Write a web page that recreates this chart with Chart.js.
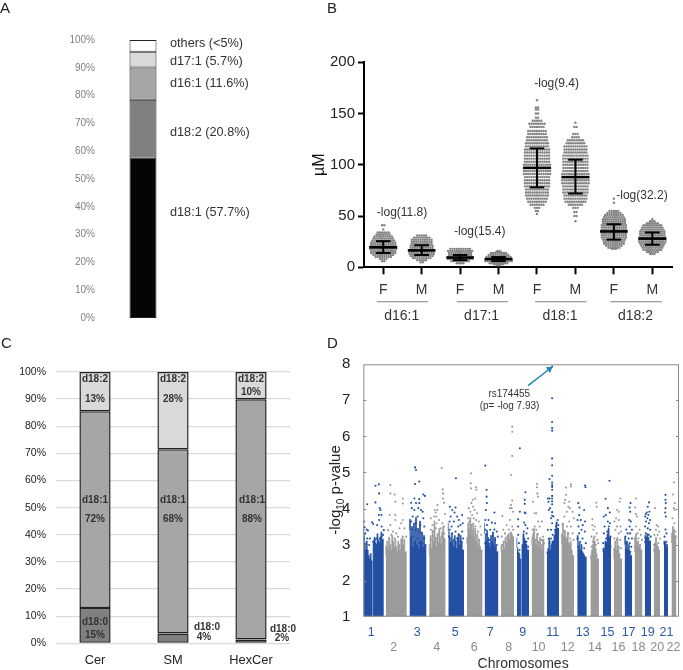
<!DOCTYPE html>
<html>
<head>
<meta charset="utf-8">
<title>Sphingolipid panels</title>
<script src="https://cdn.jsdelivr.net/npm/chart.js@4/dist/chart.umd.min.js"></script>
<style>
html,body{margin:0;padding:0;background:#fff;}
body{width:683px;height:670px;position:relative;overflow:hidden;font-family:"Liberation Sans",Arial,sans-serif;color:#222;}
canvas{position:absolute;}
.letter{position:absolute;font-size:15px;line-height:15px;}
#dTitle{position:absolute;left:275px;top:481px;width:120px;text-align:center;font-size:15px;line-height:18px;transform:rotate(-90deg);white-space:nowrap;}
#dTitle sub{font-size:10px;line-height:0;}
</style>
</head>
<body>
<canvas id="chartA" width="300" height="330" style="left:0;top:0"></canvas>
<canvas id="chartB" width="383" height="330" style="left:300px;top:0"></canvas>
<canvas id="chartC" width="300" height="340" style="left:0;top:330px"></canvas>
<canvas id="chartD" width="383" height="340" style="left:300px;top:330px"></canvas>
<div class="letter" style="left:0;top:0">A</div>
<div class="letter" style="left:327px;top:0">B</div>
<div class="letter" style="left:1px;top:335px">C</div>
<div class="letter" style="left:327px;top:335px">D</div>
<div id="dTitle">-log<sub>10</sub> p-value</div>
<script>
// ======================
// PANEL A DATA
// ======================
const aNames = ["d18:1","d18:2","d16:1","d17:1","others"];
const aValues = [57.7,20.8,11.6,5.7,4.2];
const aColors = ["#050505","#7f8180","#a6a6a6","#d9d9d9","#ffffff"];
const aLabels = ["others (<5%)","d17:1 (5.7%)","d16:1 (11.6%)","d18:2 (20.8%)","d18:1 (57.7%)"];
const aLabelY = [98.9,92.4,84.2,66.7,37.8];

// ======================
// PANEL B DATA
// ======================
const bTicks = ["F","M","F","M","F","M","F","M"];
const bGroups = ["d16:1","d17:1","d18:1","d18:2"];
const bGroupX = [0.48,2.56,4.6,6.56];
const bLineFrom = [-0.17,1.91,3.95,5.91];
const bLineTo = [1.16,3.24,5.29,7.25];
const bMeans = [19.5,16.5,9.5,8,97,88,35,28];
const bLows = [14,12,7,6,78,72,27,22];
const bHighs = [25.5,21.5,12,10,116,105,42,34];
const bNotes = ["-log(11.8)","-log(15.4)","-log(9.4)","-log(32.2)"];
const bNoteX = [0.49,2.51,4.51,6.73];
const bNoteY = [53.3,34.4,179.5,69.6];
// swarm rows: [uM, dots in the row]
const swarm161F = [[41,2],[37,1],[34,6],[32,7],[30,9],[28,10],[26,11],[24,12],[22,12],[20,13],[18,13],[16,12],[14,12],[12,10],[10,8],[8,4],[6,2]];
const swarm161M = [[31,5],[29,8],[27,10],[25,10],[23,10],[21,11],[19,11],[17,12],[15,12],[13,12],[11,11],[9,9],[7,5],[5,2]];
const swarm171F = [[18,10],[16,12],[14,11],[12,11],[10,12],[8,12],[6,9],[4,4]];
const swarm171M = [[16,2],[15,3],[14,8],[12,10],[10,12],[8,13],[6,13],[4,9],[3,5],[2,2]];
const swarm181F = [[163,1],[156,2],[154,2],[150,2],[146,2],[143,5],[140,8],[137,7],[133,9],[130,9],[127,10],[124,10],[121,11],[118,11],[115,12],[112,12],[109,12],[106,12],[103,12],[100,13],[97,13],[94,13],[91,13],[88,12],[85,12],[82,12],[79,12],[76,11],[73,11],[70,11],[67,10],[64,9],[61,7],[58,3],[55,2],[52,1]];
const swarm181M = [[141,1],[137,2],[130,3],[127,4],[124,8],[121,9],[118,11],[115,11],[112,11],[109,12],[106,12],[103,12],[100,12],[97,12],[94,12],[91,13],[88,13],[85,13],[82,13],[79,12],[76,12],[73,12],[70,11],[67,11],[64,10],[61,7],[58,3],[54,2],[50,2],[45,1]];
const swarm182F = [[67,1],[63,1],[55,5],[53,7],[51,9],[49,10],[47,11],[45,11],[43,11],[41,12],[39,12],[37,12],[35,12],[33,12],[31,12],[29,12],[27,11],[25,10],[23,10],[21,8],[19,6],[18,3]];
const swarm182M = [[47,1],[45,3],[43,6],[41,9],[39,10],[37,11],[35,12],[33,12],[31,12],[29,13],[27,13],[25,13],[23,12],[21,11],[19,10],[17,9],[15,6],[13,3]];
const swarms = [swarm161F,swarm161M,swarm171F,swarm171M,swarm181F,swarm181M,swarm182F,swarm182M];

// ======================
// PANEL C DATA
// ======================
const cCats = ["Cer","SM","HexCer"];
const cD180 = [13,3.6,1.4];
const cD181 = [72.5,67.9,88.6];
const cD182 = [14.5,28.5,10];

// ======================
// PANEL D DATA
// ======================
const chrNames = ["1","2","3","4","5","6","7","8","9","10","11","12","13","14","15","16","17","18","19","20","21","22"];
const chrStart = [0,262,539,770,993,1209,1417,1609,1794,1967,2144,2314,2499,2653,2799,2926,3053,3169,3288,3392,3511,3600];
const chrLength = [240,246,200,192,185,185,162,154,142,150,142,150,112,100,96,96,88,92,73,77,50,58];
const chrLabelAt = [92,354,631,859,1074,1297,1482,1698,1863,2048,2214,2387,2564,2707,2853,2980,3099,3215,3323,3434,3542,3623];
// top of the solid band along each chromosome, 1 = centromere gap
const massTops = [
 [3.55,3.3,3.05,2.85,3.1,2.85,2.7,2.6,2.75,2.55,1,3.1,3.2,3.05,3.0,3.3,3.1,3.05,3.2,3.35,3.15],
 [2.7,2.95,3.1,2.9,3.2,3.0,2.85,3.25,3.05,2.9,3.15,2.95,2.8,3.1,3.0,2.85,3.1,3.2,3.0,3.15,2.8],
 [3.4,3.7,3.2,3.5,2.95,3.6,3.1,3.75,3.0,3.45,2.9,3.65,3.1,3.35,2.95,3.25,3.0],
 [2.7,3.0,3.25,2.9,3.4,3.1,3.6,3.2,2.95,3.3,3.05,3.45,3.2,3.0,3.35,3.5,3.15],
 [3.6,3.35,3.2,3.05,3.3,3.1,2.95,3.25,3.1,2.9,3.2,3.3,3.0,3.25,3.1,2.85],
 [3.0,3.2,3.6,3.4,3.75,3.5,3.3,3.6,3.2,3.45,3.1,3.3,3.0,3.15,2.95,2.85],
 [3.6,3.3,3.1,3.4,3.2,3.05,2.95,3.25,3.1,3.35,3.0,3.2,2.95,2.8],
 [2.8,3.0,2.85,3.1,2.9,3.2,3.05,3.25,3.3,3.1,3.35,3.3,3.2],
 [3.2,2.9,2.8,2.75,2.6,1,3.0,3.3,3.15,3.1,3.0,2.85],
 [3.2,3.0,3.3,3.45,3.15,3.0,3.3,3.1,2.95,3.2,3.0,2.85,3.15],
 [2.75,2.8,2.9,3.15,2.85,3.0,3.1,3.1,3.25,3.4,3.6,3.45],
 [3.0,3.3,3.6,3.25,3.4,3.2,3.15,3.35,3.05,3.0,3.1,2.85,2.7],
 [3.1,3.25,2.9,3.05,2.85,3.0,2.8,2.75,2.7,2.65],
 [2.6,2.7,2.85,3.0,3.2,3.1,2.9,2.75,2.6],
 [2.8,2.9,2.85,3.1,3.05,3.3,3.45,3.2],
 [2.6,2.9,3.1,2.85,3.2,2.95,2.75,2.6],
 [3.0,3.2,2.9,3.1,2.85,3.0,2.8,2.7],
 [2.8,3.2,3.3,3.0,3.1,2.95,3.0,2.85],
 [3.15,3.25,3.2,3.3,3.2,3.1],
 [2.8,2.9,3.05,3.2,3.0,2.95,2.85],
 [3.0,3.1,3.05,2.95],
 [3.1,3.3,3.5,3.4,3.25]
];
// single SNPs above the band: [Mb into the chromosome, -log10 p]
const snpHits = [
 [[46,4.12],[142,4.63],[181,4.67],[185,4.42],[142,4.17],[192,4.01],[200,3.96],[181,3.82],[212,3.82],[185,3.68],[162,3.54],[104,3.62],[115,3.57],[215,3.5],[239,3.4],[8,3.64],[15,3.48],[38,3.42],[54,3.39],[0,3.4],[23,3.31],[77,3.17],[46,3.17],[8,3.17],[115,3.08],[154,3.17],[192,3.17],[212,3.22],[231,3.27],[173,3.11],[135,3.13],[69,2.99],[31,2.99]],
 [[54,4.65],[54,4.42],[104,4.39],[112,4.19],[200,4.28],[200,4.14],[112,3.82],[112,3.68],[46,3.82],[54,3.54],[27,3.4],[85,3.36],[181,3.59],[200,3.68],[219,3.45],[162,3.45],[123,3.31],[65,3.27],[142,3.22],[200,3.22],[104,3.17],[38,3.17],[181,3.13],[85,3.08],[239,3.22]],
 [[65,5.14],[77,5.07],[65,4.68],[115,4.75],[162,4.39],[181,4.35],[19,4.16],[58,4.28],[115,4.26],[77,4.15],[115,4.15],[27,4.01],[58,3.96],[104,4.01],[135,3.96],[154,3.91],[38,3.78],[96,3.78],[162,3.73],[19,3.64],[77,3.59],[127,3.54],[173,3.5],[27,3.41],[77,3.41],[115,3.36],[146,3.31],[38,3.22],[96,3.17],[173,3.17],[58,3.04],[115,3.04],[19,2.99],[154,3.04],[77,2.9],[135,2.85]],
 [[146,5.13],[158,4.53],[162,4.42],[162,4.28],[173,4.16],[96,4.1],[65,3.96],[77,3.89],[96,3.96],[58,3.78],[85,3.78],[185,3.85],[19,3.73],[58,3.64],[115,3.68],[85,3.59],[154,3.59],[38,3.54],[173,3.5],[135,3.45],[77,3.45],[19,3.41],[58,3.36],[173,3.31],[115,3.31],[46,3.24],[146,3.22],[96,3.17],[19,3.13],[77,3.08],[173,3.17]],
 [[89,4.84],[19,4.05],[85,4.03],[46,3.96],[73,3.89],[27,3.78],[104,3.78],[162,3.82],[123,3.68],[15,3.64],[65,3.64],[169,3.59],[38,3.5],[115,3.5],[142,3.54],[15,3.41],[85,3.36],[162,3.36],[46,3.31],[123,3.27],[8,3.22],[104,3.17],[173,3.17],[65,3.13],[142,3.08],[27,3.04]],
 [[50,4.98],[46,4.7],[50,4.56],[108,4.59],[112,4.52],[69,4.24],[54,4.15],[100,4.28],[73,4.05],[23,4.01],[42,3.91],[92,3.96],[119,3.87],[62,3.82],[15,3.73],[81,3.73],[31,3.64],[108,3.68],[139,3.64],[54,3.54],[100,3.5],[158,3.5],[15,3.41],[73,3.36],[131,3.36],[42,3.27],[100,3.22],[169,3.27],[23,3.13],[139,3.13],[62,3.08],[112,3.04]],
 [[8,5.19],[23,4.52],[23,4.33],[27,4.15],[15,3.96],[115,3.89],[8,3.68],[46,3.68],[27,3.54],[85,3.61],[123,3.59],[8,3.41],[65,3.41],[115,3.42],[142,3.36],[27,3.27],[92,3.24],[154,3.22],[54,3.13],[123,3.13],[8,3.04],[85,3.04],[142,2.99],[38,2.94]],
 [[131,6.27],[131,6.13],[131,5.46],[115,4.93],[131,4.22],[115,4.1],[123,4.01],[104,4.01],[139,3.91],[15,3.79],[104,3.68],[65,3.54],[131,3.5],[27,3.41],[92,3.42],[142,3.41],[46,3.31],[115,3.31],[8,3.22],[77,3.22],[135,3.22],[38,3.08],[104,3.13],[15,2.99],[65,2.99]],
 [[35,5.67],[100,4.45],[92,4.24],[92,4.13],[35,3.91],[92,3.89],[100,3.87],[15,3.7],[85,3.61],[100,3.54],[15,3.5],[123,3.45],[81,3.36],[112,3.31],[15,3.27],[131,3.17],[85,3.17],[23,3.04],[112,3.08],[73,2.99],[131,2.94],[31,2.85]],
 [[62,4.68],[62,4.59],[65,4.42],[73,4.33],[15,4.19],[35,3.87],[54,3.87],[73,3.64],[119,3.64],[35,3.5],[92,3.5],[8,3.41],[54,3.41],[131,3.22],[27,3.31],[73,3.29],[112,3.13],[15,3.17],[54,3.13],[142,3.04],[92,3.04],[35,2.99]],
 [[62,7.94],[62,7.06],[62,6.4],[62,6.23],[62,6.16],[62,5.39],[62,5.2],[62,4.91],[31,4.82],[62,4.72],[62,4.65],[62,4.6],[62,4.52],[62,4.35],[62,4.28],[62,4.2],[62,4.12],[62,3.9],[62,3.8],[12,4.28],[31,4.28],[19,4.19],[38,4.01],[23,3.96],[50,3.73],[62,3.59],[77,3.78],[115,3.61],[127,3.68],[108,3.5],[135,3.54],[12,3.41],[50,3.41],[96,3.41],[127,3.41],[69,3.27],[112,3.31],[23,3.17],[50,3.17],[96,3.17],[127,3.17],[81,3.04],[31,3.04],[127,3.04]],
 [[54,4.58],[112,4.67],[112,4.61],[54,4.38],[42,4.24],[92,4.19],[35,4.15],[81,4.05],[100,4.01],[62,3.91],[131,3.91],[35,3.78],[92,3.64],[145,3.73],[15,3.54],[65,3.5],[112,3.5],[35,3.36],[81,3.31],[131,3.31],[15,3.22],[54,3.17],[104,3.17],[142,3.13],[73,3.04],[27,3.04]],
 [[92,4.64],[96,4.59],[12,4.15],[27,4.03],[23,3.82],[81,3.96],[4,3.68],[42,3.68],[92,3.64],[15,3.5],[65,3.54],[50,3.41],[23,3.31],[88,3.36],[4,3.17],[62,3.17],[35,3.08],[100,3.04],[81,2.9],[12,2.94]],
 [[69,4.16],[73,4.05],[23,3.7],[50,3.5],[23,3.54],[35,3.41],[73,3.31],[12,3.22],[50,3.22],[81,3.13],[31,3.08],[65,2.99],[12,2.94],[92,3.04],[42,2.9]],
 [[77,4.77],[31,4.27],[58,4.01],[35,3.82],[81,3.89],[12,3.78],[58,3.64],[81,3.59],[19,3.5],[50,3.36],[69,3.5],[12,3.31],[89,3.22],[38,3.17],[69,3.13],[4,3.04],[50,3.04],[89,2.94],[27,2.9]],
 [[77,4.28],[69,4.19],[38,3.96],[58,3.91],[27,3.73],[58,3.68],[8,3.64],[38,3.5],[77,3.5],[19,3.41],[58,3.31],[85,3.36],[8,3.17],[38,3.13],[77,3.13],[19,2.94],[58,2.94],[85,2.9],[8,2.85],[38,2.76]],
 [[69,4.15],[58,4.03],[65,3.91],[54,3.68],[73,3.64],[19,3.42],[58,3.5],[85,3.41],[35,3.31],[8,3.22],[65,3.31],[46,3.17],[85,3.17],[19,3.04],[58,3.04],[77,2.94],[27,2.85],[65,2.8]],
 [[15,4.28],[8,4.03],[15,3.85],[27,3.78],[19,3.5],[58,3.41],[35,3.31],[73,3.27],[8,3.17],[46,3.17],[85,3.13],[27,3.04],[65,2.99],[8,2.94]],
 [[50,4.17],[35,4.05],[23,3.89],[54,3.91],[12,3.85],[42,3.82],[4,3.78],[31,3.73],[62,3.68],[15,3.64],[50,3.59],[4,3.5],[35,3.45],[62,3.41],[12,3.31],[46,3.27],[69,3.22],[23,3.17],[4,3.08],[54,3.08]],
 [[15,4.01],[35,3.54],[54,3.5],[27,3.41],[65,3.36],[8,3.27],[46,3.27],[73,3.17],[27,3.13],[4,2.99],[54,3.04],[35,2.94]],
 [[19,4.38],[19,4.24],[23,4.15],[19,4.01],[15,3.89],[23,3.78],[19,3.42],[31,3.31],[8,3.22],[31,3.08],[12,3.04],[38,2.99]],
 [[31,4.73],[19,4.39],[38,4.15],[27,4.01],[38,3.96],[12,3.73],[35,3.59],[27,3.41],[46,3.36],[12,3.31],[31,3.17],[50,3.22],[4,3.08],[42,3.04]]
];
const arrowX = [1925,2175];
const arrowY = [7.41,7.87];
const dNotes = ["rs174455","(p= -log 7.93)"];
const dNoteX = [1705,1708];
const dNoteY = [7.16,6.85];

// ======================
// SHARED HELPERS
// ======================
Chart.defaults.font.family = '"Liberation Sans",Arial,sans-serif';
Chart.defaults.animation = false;
Chart.defaults.responsive = false;
Chart.defaults.devicePixelRatio = 1;
Chart.defaults.events = [];
Chart.defaults.plugins.legend.display = false;
Chart.defaults.plugins.tooltip.enabled = false;

// keep a scale box at a fixed size so the plot lands where it should
function fixWidth(w){
  return s => { s.width = w; s.paddingTop = 0; s.paddingBottom = 0; };
}
function fixHeight(h){
  return s => { s.height = h; s.paddingLeft = 0; s.paddingRight = 0; };
}

// text anchored on the chart scales
function notesPlugin(items){
  return {
    id:"notes",
    afterDraw(chart){
      const ctx = chart.ctx;
      ctx.save();
      ctx.textBaseline = "middle";
      items.forEach(n => {
        ctx.font = n.font;
        ctx.fillStyle = n.color || "#222";
        ctx.textAlign = n.align || "center";
        ctx.fillText(n.text, chart.scales.x.getPixelForValue(n.x) + (n.dx||0), chart.scales.y.getPixelForValue(n.y));
      });
      ctx.restore();
    }
  };
}

// ======================
// PANEL A
// ======================
new Chart(document.getElementById("chartA"),{
type:"bar",
data:{
labels:["all"],
datasets:aNames.map((n,i)=>({
label:n,
data:[aValues[i]],
backgroundColor:aColors[i],
borderColor:"#222",
borderWidth:1,
borderSkipped:false,
barPercentage:0.375,
categoryPercentage:1
}))
},
options:{
layout:{padding:{top:40,bottom:12,right:121}},
scales:{
x:{stacked:true,display:false},
y:{
stacked:true,min:0,max:100,
afterFit:fixWidth(107),
grid:{display:false},
border:{display:false},
ticks:{stepSize:10,padding:4,color:"#808080",font:{size:10},callback:v=>v+"%"}
}
}
},
plugins:[notesPlugin(aLabels.map((t,i)=>({text:t,x:0,dx:27,y:aLabelY[i],font:"12.7px 'Liberation Sans'",align:"left",color:"#333"})))]
});

// ======================
// PANEL B
// ======================
const dotStep = 0.057;
const bDatasets = [];
swarms.forEach((rows,g)=>{
  const pts = [];
  rows.forEach(([v,n])=>{
    for(let k=0;k<n;k++) pts.push({x:g+(k-(n-1)/2)*dotStep,y:v});
  });
  bDatasets.push({data:pts,backgroundColor:"#858585",borderWidth:0,pointRadius:1.2,order:3});
});
bMeans.forEach((m,g)=>{
  const seg = (d,w) => bDatasets.push({data:d,showLine:true,borderColor:"#000",borderWidth:w,pointRadius:0,order:1,clip:false});
  seg([{x:g-0.36,y:m},{x:g+0.36,y:m}],2.6);
  seg([{x:g,y:bLows[g]},{x:g,y:bHighs[g]}],2);
  seg([{x:g-0.19,y:bLows[g]},{x:g+0.19,y:bLows[g]}],2);
  seg([{x:g-0.19,y:bHighs[g]},{x:g+0.19,y:bHighs[g]}],2);
});
bGroups.forEach((n,i)=>{
  bDatasets.push({data:[{x:bLineFrom[i],y:-33.6},{x:bLineTo[i],y:-33.6}],showLine:true,borderColor:"#808080",borderWidth:1,pointRadius:0,clip:false,order:2});
});

const bItems = bNotes.map((t,i)=>({text:t,x:bNoteX[i],y:bNoteY[i],font:"12px 'Liberation Sans'",color:"#333"}))
  .concat(bGroups.map((t,i)=>({text:t,x:bGroupX[i],y:-47.5,font:"14px 'Liberation Sans'",color:"#333"})));

new Chart(document.getElementById("chartB"),{
type:"scatter",
data:{datasets:bDatasets},
options:{
layout:{padding:{top:62.3,right:10.3}},
scales:{
x:{
type:"linear",min:-0.5,max:7.53,
afterBuildTicks:s=>{s.ticks=bTicks.map((t,i)=>({value:i}));},
afterFit:fixHeight(62.7),
grid:{drawOnChartArea:false,tickLength:7,tickWidth:2,tickColor:"#000"},
border:{color:"#000",width:2},
ticks:{autoSkip:false,maxRotation:0,padding:7,color:"#333",font:{size:14},callback:(v,i)=>bTicks[i]}
},
y:{
min:0,max:200,
afterFit:fixWidth(64),
title:{display:true,text:"µM",color:"#111",font:{size:16},padding:{top:10,bottom:0}},
grid:{drawOnChartArea:false,tickLength:6,tickWidth:2,tickColor:"#000"},
border:{color:"#000",width:2},
ticks:{stepSize:50,padding:3,color:"#222",font:{size:15}}
}
}
},
plugins:[notesPlugin(bItems)]
});

// ======================
// PANEL C
// ======================
const cBar = (data,color) => ({data:data,backgroundColor:color,borderColor:"#222",borderWidth:1.5,borderSkipped:false,barPercentage:0.4,categoryPercentage:1});
const boldFont = "bold 10px 'Liberation Sans'";
const cItems = [
 {text:"d18:2",x:0,y:97.2},{text:"13%",x:0,y:90},{text:"d18:1",x:0,y:52.7},{text:"72%",x:0,y:45.9},{text:"d18:0",x:0,y:7.6},{text:"15%",x:0,y:3.1},
 {text:"d18:2",x:1,y:97.2},{text:"28%",x:1,y:90},{text:"d18:1",x:1,y:52.7},{text:"68%",x:1,y:45.9},{text:"d18:0",x:1,dx:34,y:5.8},{text:"4%",x:1,dx:31,y:2.3},
 {text:"d18:2",x:2,y:97.2},{text:"10%",x:2,y:92.4},{text:"d18:1",x:2,dx:1,y:52.7},{text:"88%",x:2,dx:1,y:45.9},{text:"d18:0",x:2,dx:32,y:5.3},{text:"2%",x:2,dx:31,y:1.8}
].map(n=>Object.assign(n,{font:boldFont,color:"#333"}));

new Chart(document.getElementById("chartC"),{
type:"bar",
data:{
labels:cCats,
datasets:[cBar(cD180,"#7f8180"),cBar(cD181,"#a6a6a6"),cBar(cD182,"#d9d9d9")]
},
options:{
layout:{padding:{top:42,right:10}},
scales:{
x:{
stacked:true,
afterFit:fixHeight(26.7),
grid:{display:false},
border:{display:false},
ticks:{padding:1,color:"#222",font:{size:12.8}}
},
y:{
stacked:true,min:0,max:100,
afterFit:fixWidth(56),
grid:{color:"#d9d9d9",lineWidth:1.3,drawTicks:false},
border:{display:false},
ticks:{stepSize:10,padding:10,color:"#222",font:{size:10.5},callback:v=>v+"%"}
}
}
},
plugins:[notesPlugin(cItems)]
});

// ======================
// PANEL D
// ======================
const blue = "#2350a5";
const grey = "#9b9b9b";
const dDatasets = [];
chrNames.forEach((n,c)=>{
  const color = c%2===0 ? blue : grey;
  const tops = massTops[c];
  const band = tops.map((v,i)=>({x:chrStart[c]+chrLength[c]*i/tops.length,y:v}));
  band.push({x:chrStart[c]+chrLength[c],y:tops[tops.length-1]});
  dDatasets.push({data:band,showLine:true,stepped:"after",fill:"start",backgroundColor:color,borderColor:color,borderWidth:0.7,pointRadius:0,order:3});
  dDatasets.push({data:snpHits[c].map(p=>({x:chrStart[c]+p[0],y:p[1]})),backgroundColor:color,borderWidth:0,pointRadius:1.05,order:2});
});
dDatasets.push({
  data:arrowX.map((x,i)=>({x:x,y:arrowY[i]})),
  showLine:true,borderColor:"#1f86b5",borderWidth:1.5,
  pointStyle:"triangle",pointRadius:[0,4],pointRotation:[0,54],
  pointBackgroundColor:"#1f86b5",pointBorderWidth:0,order:1
});

const framePlugin = {
  id:"frame",
  afterDatasetsDraw(chart){
    const {ctx,chartArea:a,scales:{y}} = chart;
    ctx.save();
    ctx.strokeStyle = "#8a8a8a";
    ctx.lineWidth = 1;
    ctx.strokeRect(a.left+0.5,a.top+0.5,a.width-1,a.height-1);
    y.ticks.forEach(t=>{
      if(t.value<=1||t.value>=8) return;
      const p = Math.round(y.getPixelForValue(t.value))+0.5;
      ctx.beginPath();
      ctx.moveTo(a.left,p);ctx.lineTo(a.left+3,p);
      ctx.moveTo(a.right,p);ctx.lineTo(a.right-3,p);
      ctx.stroke();
    });
    ctx.restore();
  }
};

const dItems = dNotes.map((t,i)=>({text:t,x:dNoteX[i],y:dNoteY[i],font:"10px 'Liberation Sans'",color:"#333"}));
dItems.push({text:"Chromosomes",x:1867,y:-0.31,font:"14px 'Liberation Sans'",color:"#333"});

new Chart(document.getElementById("chartD"),{
type:"scatter",
data:{datasets:dDatasets},
options:{
layout:{padding:{top:34.3,right:0.3}},
scales:{
x:{
type:"linear",min:0,max:3688,
afterBuildTicks:s=>{s.ticks=chrLabelAt.map(v=>({value:v}));},
afterFit:fixHeight(53.3),
grid:{display:false},
border:{display:false},
ticks:{
autoSkip:false,maxRotation:0,padding:1,
font:{size:12.5,lineHeight:1.15},
color:c=>c.index%2===0?"#2d5aa8":"#8a8a8a",
callback:(v,i)=>i%2===0?chrNames[i]:["",chrNames[i]]
}
},
y:{
min:1,max:8,
afterFit:fixWidth(63.3),
grid:{display:false},
border:{display:false},
ticks:{stepSize:1,padding:5,color:"#222",font:{size:15}}
}
}
},
plugins:[framePlugin,notesPlugin(dItems)]
});
</script>
</body>
</html>
